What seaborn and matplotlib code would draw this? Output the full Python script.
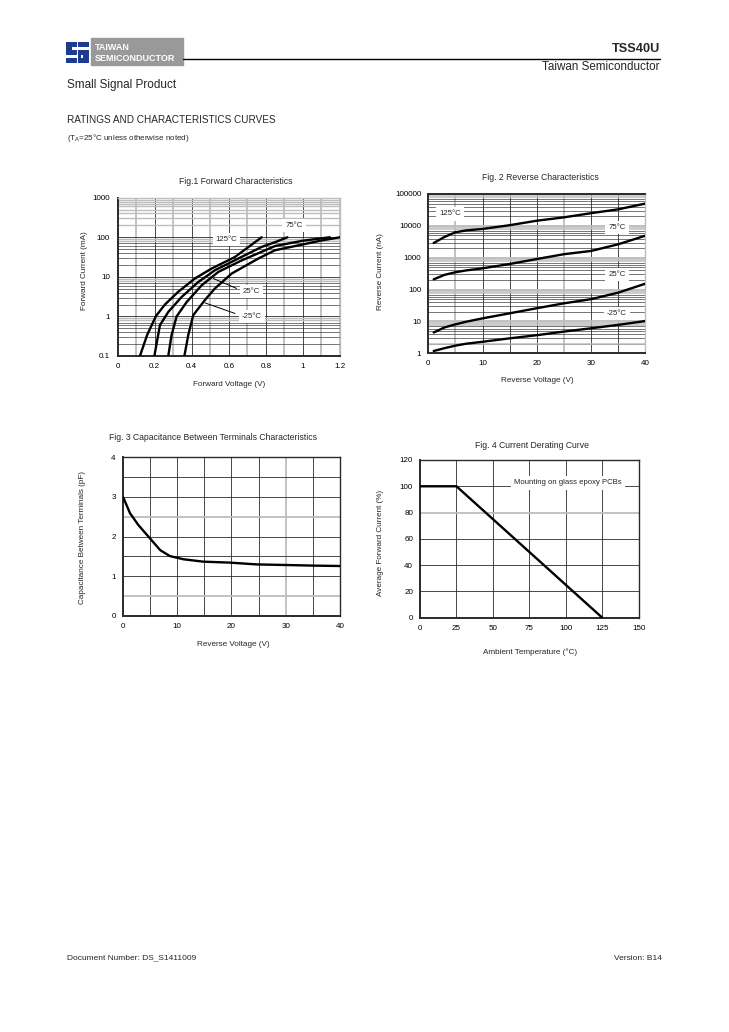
import numpy as np
import pandas as pd
import matplotlib
matplotlib.use("Agg")
import matplotlib.pyplot as plt
import seaborn as sns
from matplotlib.patches import Rectangle

# ---- Fig.1 forward characteristics (V, mA) ----
fwd_125_v = [0.120, 0.160, 0.207, 0.255, 0.327, 0.417, 0.507, 0.633, 0.777]
fwd_125_i = [0.1, 0.35, 1.03, 2.0, 4.2, 9.1, 16.2, 31.8, 100]
fwd_75_v = [0.198, 0.228, 0.273, 0.345, 0.435, 0.525, 0.651, 0.777, 0.849, 0.916]
fwd_75_i = [0.1, 0.6, 1.3, 3.1, 7.4, 14.7, 29, 57, 75, 100]
fwd_25_v = [0.273, 0.291, 0.318, 0.372, 0.453, 0.543, 0.669, 0.849, 1.0, 1.146]
fwd_25_i = [0.1, 0.34, 1.0, 2.3, 6.1, 13.3, 26, 60, 82, 100]
fwd_m25_v = [0.360, 0.381, 0.408, 0.471, 0.525, 0.615, 0.759, 0.849, 1.0, 1.1, 1.2]
fwd_m25_i = [0.1, 0.34, 1.08, 2.6, 5.1, 12.1, 29, 47, 66, 83, 100]

# ---- Fig.2 reverse characteristics (V, nA) ----
rev_v = [1, 3, 5, 7, 10, 15, 20, 25, 30, 35, 40]
rev_125 = [2900, 4500, 6300, 7200, 8000, 10500, 14500, 18500, 25000, 33000, 50000]
rev_75 = [210, 290, 350, 400, 465, 635, 910, 1290, 1630, 2640, 4900]
rev_25 = [4.5, 6.5, 8.1, 9.8, 12.5, 18, 26, 37, 50, 80, 153]
rev_m25 = [1.18, 1.45, 1.74, 2.0, 2.3, 2.95, 3.7, 4.8, 6.1, 7.8, 10.3]

# ---- Fig.3 capacitance (V, pF) ----
cap_v = [0.1, 1.35, 2.9, 5.0, 6.9, 8.7, 11.2, 14.8, 19.8, 24.7, 30.2, 35.1, 40]
cap_c = [2.99, 2.59, 2.29, 1.96, 1.66, 1.51, 1.43, 1.37, 1.345, 1.30, 1.285, 1.27, 1.26]

# ---- Fig.4 derating (degC, %) ----
der_t = [0, 25, 125]
der_pct = [100, 100, 0]

sns.set_style("white")
plt.rcParams['font.family'] = ['Liberation Sans', 'DejaVu Sans']

W, H = 729, 1032
fig = plt.figure(figsize=(W / 100, H / 100), dpi=100)


def box(l, r, t, b):
    return [l / W, 1 - b / H, (r - l) / W, (b - t) / H]


def ftext(x, y, s, **kw):
    fig.text(x / W, 1 - y / H, s, **kw)


DARK = '#2a2a2a'
GRAY = '#bdbdbd'
TICK = 5.8
AXLAB = 5.9
TITLE = 6.2


def vlines(ax, xs, color, lw):
    for x in xs:
        ax.axvline(x, color=color, lw=lw, zorder=0.5)


def hlines(ax, ys, color, lw):
    for y in ys:
        ax.axhline(y, color=color, lw=lw, zorder=0.5)


def style_axes(ax):
    for s in ax.spines.values():
        s.set_color(DARK)
        s.set_linewidth(1.0)
    ax.spines['left'].set_linewidth(1.4)
    ax.spines['bottom'].set_linewidth(1.4)
    ax.tick_params(labelsize=TICK, length=0, pad=5, colors='black')


def curve(ax, x, y):
    sns.lineplot(x=x, y=y, ax=ax, color='black', lw=1.7, sort=False, zorder=3)


def label(ax, x, y, s):
    ax.text(x, y, s, fontsize=5.6, ha='center', va='center', zorder=4,
            bbox=dict(facecolor='white', edgecolor='none', pad=2.2))


# ---------------- header ----------------
fig.patches.append(Rectangle((91 / W, 1 - 65 / H), 92 / W, 27 / H,
                             transform=fig.transFigure, color='#999999'))
ftext(95, 48, 'TAIWAN', fontsize=6.5, weight='bold', color='white', va='center')
ftext(95, 58.5, 'SEMICONDUCTOR', fontsize=6.5, weight='bold', color='white', va='center')
fig.add_artist(plt.Line2D([183 / W, 660 / W], [1 - 58.5 / H, 1 - 58.5 / H],
                          transform=fig.transFigure, color='black', lw=1.0))
# logo glyph
lg = fig.add_axes(box(66, 89, 42, 63))
lg.set_xlim(0, 10)
lg.set_ylim(0, 10)
lg.axis('off')
blue = '#1d3c8f'
for xy, w, h in [((0, 7.6), 10, 2.4), ((0, 4.0), 2.6, 6.0), ((0, 4.0), 10, 2.2),
                 ((7.4, 0), 2.6, 6.2), ((0, 0), 10, 2.4)]:
    lg.add_patch(Rectangle(xy, w, h, color=blue, lw=0))
lg.add_patch(Rectangle((4.6, 0), 0.8, 10, color='white', lw=0))
lg.add_patch(Rectangle((5.4, 2.4), 1.0, 1.6, color=blue, lw=0))

ftext(660, 49, 'TSS40U', fontsize=9.2, weight='bold', ha='right', va='center')
ftext(660, 67, 'Taiwan Semiconductor', fontsize=8.4, ha='right', va='center')
ftext(67, 85, 'Small Signal Product', fontsize=8.5, va='center')
ftext(67, 120, 'RATINGS AND CHARACTERISTICS CURVES', fontsize=7.2, va='center')
ftext(67, 138, '(T$_\\mathregular{A}$=25°C unless otherwise noted)', fontsize=5.8, va='center')

# ---------------- Fig.1 ----------------
ax1 = fig.add_axes(box(117.7, 340, 197.7, 356))
ax1.set_yscale('log')
vlines(ax1, [0.1, 0.3, 0.5, 0.7, 0.9, 1.1, 1.2], GRAY, 1.3)
vlines(ax1, [0.2, 0.4, 0.6, 0.8, 1.0], DARK, 0.6)
for dec in [0.1, 1, 10]:
    hlines(ax1, [dec * k for k in [2, 3, 4, 5, 6, 7]], DARK, 0.45)
    hlines(ax1, [dec * 8, dec * 9], GRAY, 1.0)
hlines(ax1, [100 * k for k in [2, 3, 4, 5, 6, 7, 8, 9]], GRAY, 1.0)
hlines(ax1, [1, 10, 100], DARK, 0.6)
curve(ax1, fwd_125_v, fwd_125_i)
curve(ax1, fwd_75_v, fwd_75_i)
curve(ax1, fwd_25_v, fwd_25_i)
curve(ax1, fwd_m25_v, fwd_m25_i)
ax1.set_xlim(0, 1.2)
ax1.set_ylim(0.1, 1000)
ax1.set_xticks([0, 0.2, 0.4, 0.6, 0.8, 1.0, 1.2])
ax1.set_xticklabels(['0', '0.2', '0.4', '0.6', '0.8', '1', '1.2'])
ax1.set_yticks([0.1, 1, 10, 100, 1000])
ax1.set_yticklabels(['0.1', '1', '10', '100', '1000'])
ax1.yaxis.set_minor_locator(matplotlib.ticker.NullLocator())
style_axes(ax1)
ax1.spines['top'].set_color(GRAY)
ax1.spines['right'].set_color(GRAY)
ax1.tick_params(axis='y', pad=2.5, length=3, direction='out', width=0.6)
label(ax1, 0.588, 87, '125°C')
label(ax1, 0.952, 200, '75°C')
label(ax1, 0.723, 4.35, '25°C')
label(ax1, 0.723, 0.98, '-25°C')
ax1.plot([0.642, 0.516], [5.1, 9.1], color='black', lw=0.7, zorder=3)
ax1.plot([0.633, 0.471], [1.19, 2.2], color='black', lw=0.7, zorder=3)
ftext(236, 181, 'Fig.1 Forward Characteristics', fontsize=TITLE, ha='center', va='center')
ftext(229, 385, 'Forward Voltage (V)', fontsize=AXLAB, ha='center', va='center')
ftext(84, 271, 'Forward Current (mA)', fontsize=AXLAB, ha='center', va='center', rotation=90)

# ---------------- Fig.2 ----------------
ax2 = fig.add_axes(box(428.3, 645.3, 194, 353.3))
ax2.set_yscale('log')
vlines(ax2, [5, 25], GRAY, 1.3)
vlines(ax2, [10, 15, 20, 30, 35], DARK, 0.6)
for dec in [1, 10, 100, 1000, 10000]:
    hlines(ax2, [dec * k for k in [2, 3, 4, 5, 6, 7]], DARK, 0.45)
    hlines(ax2, [dec * 8, dec * 9], GRAY, 1.1)
hlines(ax2, [10, 100, 1000, 10000], GRAY, 1.3)
hlines(ax2, [2], GRAY, 1.1)
curve(ax2, rev_v, rev_125)
curve(ax2, rev_v, rev_75)
curve(ax2, rev_v, rev_25)
curve(ax2, rev_v, rev_m25)
ax2.set_xlim(0, 40)
ax2.set_ylim(1, 100000)
ax2.set_xticks([0, 10, 20, 30, 40])
ax2.set_yticks([1, 10, 100, 1000, 10000, 100000])
ax2.set_yticklabels(['1', '10', '100', '1000', '10000', '100000'])
ax2.yaxis.set_minor_locator(matplotlib.ticker.NullLocator())
style_axes(ax2)
ax2.spines['top'].set_linewidth(1.4)
ax2.spines['right'].set_color(GRAY)
label(ax2, 4.0, 23600, '125°C')
label(ax2, 34.8, 8780, '75°C')
label(ax2, 34.8, 302, '25°C')
label(ax2, 34.8, 18, '-25°C')
ftext(540, 178, 'Fig. 2 Reverse Characteristics', fontsize=TITLE, ha='center', va='center')
ftext(537, 381, 'Reverse Voltage (V)', fontsize=AXLAB, ha='center', va='center')
ftext(380, 272, 'Reverse Current (nA)', fontsize=AXLAB, ha='center', va='center', rotation=90)

# ---------------- Fig.3 ----------------
ax3 = fig.add_axes(box(122.7, 340, 457.3, 616))
vlines(ax3, [5, 10, 15, 20, 25, 35], DARK, 0.6)
vlines(ax3, [30], GRAY, 1.3)
hlines(ax3, [1, 1.5, 2, 3, 3.5], DARK, 0.6)
hlines(ax3, [0.5, 2.5], GRAY, 1.3)
curve(ax3, cap_v, cap_c)
ax3.set_xlim(0, 40)
ax3.set_ylim(0, 4)
ax3.set_xticks([0, 10, 20, 30, 40])
ax3.set_yticks([0, 1, 2, 3, 4])
style_axes(ax3)
ftext(213, 437, 'Fig. 3 Capacitance Between Terminals Characteristics', fontsize=TITLE,
      ha='center', va='center')
ftext(233, 644, 'Reverse Voltage (V)', fontsize=AXLAB, ha='center', va='center')
ftext(82, 537, 'Capacitance Between Terminals (pF)', fontsize=AXLAB, ha='center',
      va='center', rotation=90)

# ---------------- Fig.4 ----------------
ax4 = fig.add_axes(box(420, 638.7, 460, 617.7))
vlines(ax4, [25, 50, 75, 100, 125], DARK, 0.6)
hlines(ax4, [20, 40, 60, 100], DARK, 0.6)
hlines(ax4, [80], GRAY, 1.3)
curve(ax4, der_t, der_pct)
ax4.set_xlim(0, 150)
ax4.set_ylim(0, 120)
ax4.set_xticks([0, 25, 50, 75, 100, 125, 150])
ax4.set_yticks([0, 20, 40, 60, 80, 100, 120])
style_axes(ax4)
label(ax4, 101.5, 102.5, 'Mounting on glass epoxy PCBs')
ftext(532, 445, 'Fig. 4 Current Derating Curve', fontsize=TITLE, ha='center', va='center')
ftext(530, 652, 'Ambient Temperature (°C)', fontsize=AXLAB, ha='center', va='center')
ftext(381, 543, 'Average Forward Current (%)', fontsize=AXLAB, ha='center', va='center',
      rotation=90)

# ---------------- footer ----------------
ftext(67, 958, 'Document Number: DS_S1411009', fontsize=6, va='center')
ftext(662, 958, 'Version: B14', fontsize=6, ha='right', va='center')

fig.savefig('out.png', dpi=100)
